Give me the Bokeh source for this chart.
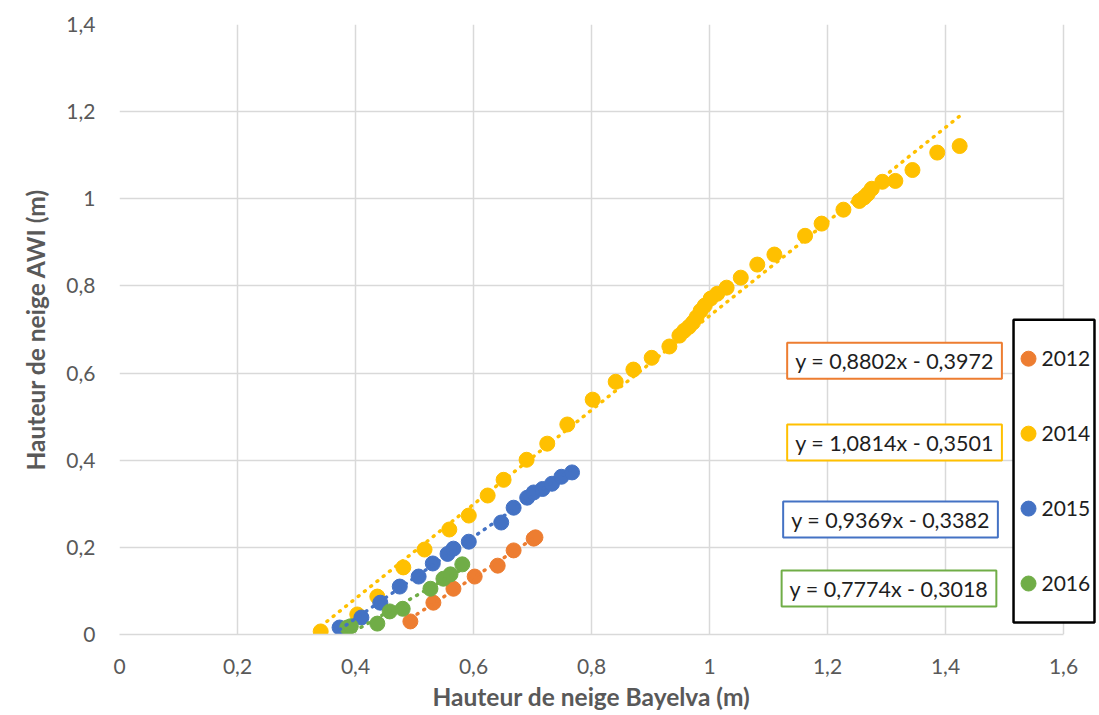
from bokeh.plotting import figure
from bokeh.models import Range1d, FixedTicker, Label, Title, CustomJSTickFormatter
from bokeh.embed import file_html
from bokeh.resources import INLINE
from bokeh.core.properties import value

# ---------------- data ----------------
years = ["2012", "2014", "2015", "2016"]
colors = ["#ED7D31", "#FFC000", "#4472C4", "#70AD47"]
slopes = [0.8802, 1.0814, 0.9369, 0.7774]
intercepts = [-0.3972, -0.3501, -0.3382, -0.3018]
equations = ["y = 0,8802x - 0,3972", "y = 1,0814x - 0,3501",
             "y = 0,9369x - 0,3382", "y = 0,7774x - 0,3018"]

x2012 = [0.493, 0.532, 0.566, 0.602, 0.641, 0.668, 0.702, 0.705]
y2012 = [0.030, 0.073, 0.105, 0.133, 0.158, 0.193, 0.220, 0.223]

x2014 = [0.341, 0.403, 0.437, 0.481, 0.517, 0.559, 0.592, 0.624, 0.651, 0.690,
         0.725, 0.759, 0.802, 0.841, 0.871, 0.902, 0.932, 0.949, 0.957, 0.965,
         0.972, 0.978, 0.985, 0.992, 1.002, 1.013, 1.029, 1.053, 1.081, 1.110,
         1.162, 1.190, 1.227, 1.254, 1.262, 1.268, 1.275, 1.293, 1.315, 1.344,
         1.386, 1.424]
y2014 = [0.007, 0.046, 0.087, 0.154, 0.195, 0.241, 0.273, 0.319, 0.355, 0.401,
         0.438, 0.482, 0.539, 0.580, 0.608, 0.635, 0.661, 0.686, 0.697, 0.706,
         0.716, 0.728, 0.743, 0.755, 0.771, 0.782, 0.796, 0.819, 0.849, 0.872,
         0.915, 0.943, 0.975, 0.995, 1.003, 1.011, 1.023, 1.039, 1.041, 1.066,
         1.106, 1.121]

x2015 = [0.373, 0.410, 0.442, 0.475, 0.507, 0.531, 0.556, 0.566, 0.592, 0.647,
         0.668, 0.691, 0.702, 0.717, 0.733, 0.749, 0.767]
y2015 = [0.016, 0.039, 0.073, 0.110, 0.133, 0.163, 0.185, 0.197, 0.213, 0.257,
         0.291, 0.314, 0.326, 0.334, 0.346, 0.362, 0.372]

x2016 = [0.386, 0.392, 0.437, 0.458, 0.480, 0.527, 0.549, 0.561, 0.581]
y2016 = [0.016, 0.019, 0.025, 0.053, 0.059, 0.105, 0.128, 0.138, 0.161]

xticks = [0, 0.2, 0.4, 0.6, 0.8, 1, 1.2, 1.4, 1.6]
yticks = [0, 0.2, 0.4, 0.6, 0.8, 1, 1.2, 1.4]

x_title = "Hauteur de neige Bayelva (m)"
y_title = "Hauteur de neige AWI (m)"

series_x = [x2012, x2014, x2015, x2016]
series_y = [y2012, y2014, y2015, y2016]

# ---------------- figure ----------------
FONT = "Lato"
p = figure(width=1099, height=715, output_backend="svg", toolbar_location=None,
           x_range=Range1d(0, 1.661), y_range=Range1d(0, 1.4),
           min_border_left=119, min_border_top=24, min_border_right=0,
           min_border_bottom=81)
p.outline_line_color = None
p.background_fill_color = "white"
p.border_fill_color = "white"

fmt = CustomJSTickFormatter(code="""
let s = tick.toFixed(1).replace('.', ',');
if (s.endsWith(',0')) { s = s.slice(0, -2); }
return s;
""")

for ax, ticks in ((p.xaxis[0], xticks), (p.yaxis[0], yticks)):
    ax.ticker = FixedTicker(ticks=ticks)
    ax.formatter = fmt
    ax.major_tick_line_color = None
    ax.minor_tick_line_color = None
    ax.major_label_text_font = FONT
    ax.major_label_text_font_size = "21px"
    ax.major_label_text_color = "#595959"
    ax.axis_label_text_font = FONT
    ax.axis_label_text_font_size = "24.5px"
    ax.axis_label_text_font_style = "bold"
    ax.axis_label_text_color = "#595959"

p.yaxis.axis_label = y_title
p.xaxis.bounds = (0, 1.6)
p.xaxis.axis_line_color = "#d9d9d9"
p.xaxis.axis_line_width = 1.5
p.yaxis.axis_line_color = None
p.xaxis.major_label_standoff = 18
p.yaxis.major_label_standoff = 18
p.yaxis.axis_label_standoff = 13

p.xgrid.grid_line_color = "#d9d9d9"
p.ygrid.grid_line_color = "#d9d9d9"
p.xgrid.grid_line_width = 1.5
p.ygrid.grid_line_width = 1.5
p.xgrid.bounds = (0, 1.6)
p.ygrid.cross_bounds = (0, 1.6)

# x-axis title, placed under the 0..1.6 span
p.add_layout(Title(text=x_title, align="left", offset=313, standoff=7,
                   text_font=FONT, text_font_size="24.5px",
                   text_font_style="bold", text_color="#595959"), "below")

# series markers
for xs, ys, c in zip(series_x, series_y, colors):
    p.scatter(xs, ys, size=15, marker="circle", fill_color=c, line_color=c)

# trend lines (from the displayed equations, over each series' x span)
for xs, a, b, c in zip(series_x, slopes, intercepts, colors):
    x0, x1 = min(xs), max(xs)
    p.line([x0, x1], [a * x0 + b, a * x1 + b], line_color=c, line_width=3.5,
           line_dash="1 7", line_cap="round")

# equation labels
eq_pos = [(1.3136, 0.6284), (1.3136, 0.4404), (1.3068, 0.2638), (1.3042, 0.1055)]
for (ex, ey), txt, c in zip(eq_pos, equations, colors):
    p.add_layout(Label(x=ex, y=ey, text=txt, text_align="center",
                       text_baseline="middle", text_font=FONT,
                       text_font_size="21.5px", text_color="#1e1e1e",
                       background_fill_color="white", border_line_color=c,
                       border_line_width=2, padding=(8, 5)))

# legend box (drawn manually so it can sit at the chart's right edge)
p.quad(left=[1.5153], right=[1.6525], bottom=[0.0275], top=[0.7225],
       fill_color="white", line_color="black", line_width=2.5)
leg_y = [0.633, 0.461, 0.289, 0.117]
p.scatter([1.5407] * 4, leg_y, size=15, marker="circle",
          fill_color=colors, line_color=colors)
p.text([1.5627] * 4, leg_y, text=years, text_font=value(FONT),
       text_font_size="21px", text_color="#1e1e1e", text_baseline="middle",
       text_align="left")

open("out.html", "w").write(file_html(p, INLINE))
